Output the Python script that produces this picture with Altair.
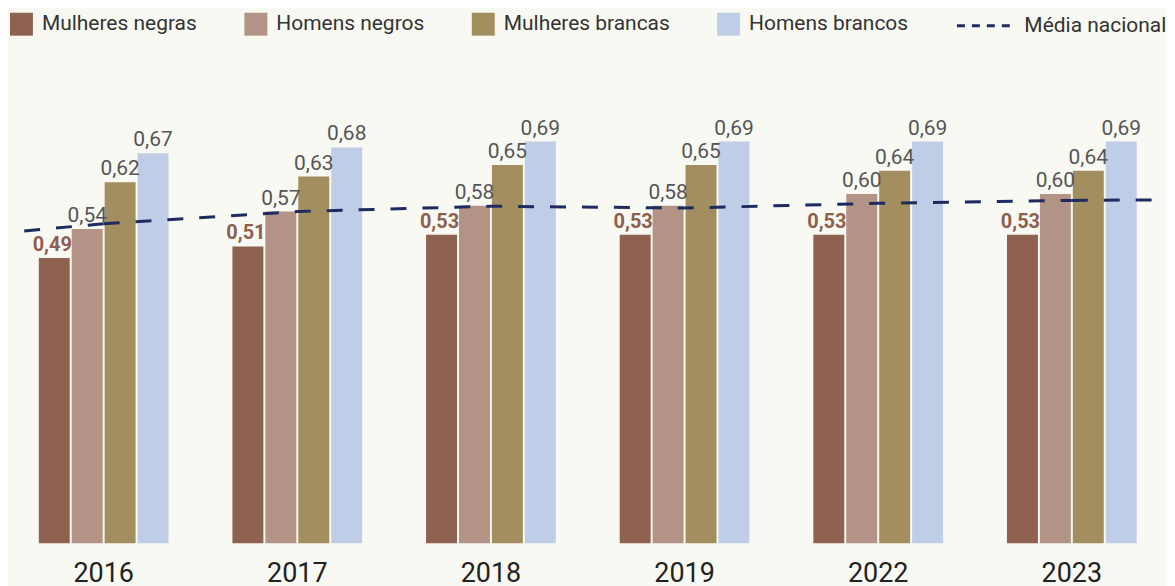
import altair as alt
import pandas as pd

anos = ["2016", "2017", "2018", "2019", "2022", "2023"]
series = ["Mulheres negras", "Homens negros", "Mulheres brancas", "Homens brancos"]
mulheres_negras = [0.49, 0.51, 0.53, 0.53, 0.53, 0.53]
homens_negros = [0.54, 0.57, 0.58, 0.58, 0.60, 0.60]
mulheres_brancas = [0.62, 0.63, 0.65, 0.65, 0.64, 0.64]
homens_brancos = [0.67, 0.68, 0.69, 0.69, 0.69, 0.69]
media_nacional = [0.549, 0.570, 0.579, 0.576, 0.584, 0.589]
media_borda_esq = 0.535
media_borda_dir = 0.590
cores = ["#8E6150", "#B39385", "#A28E5F", "#BFCDE6"]
azul = "#1F2A5E"

rows = []
for s, vals in zip(series, [mulheres_negras, homens_negros, mulheres_brancas, homens_brancos]):
    for a, v in zip(anos, vals):
        rows.append({"ano": a, "serie": s, "valor": v})
df = pd.DataFrame(rows)
df_media = pd.DataFrame({"ano": anos, "valor": media_nacional, "linha": ["Média nacional"] * len(anos)})
df_esq = pd.DataFrame({"ano": [anos[0]], "valor": [media_nacional[0]], "v2": [media_borda_esq]})
df_dir = pd.DataFrame({"ano": [anos[-1]], "valor": [media_nacional[-1]], "v2": [media_borda_dir]})

FONT = "Roboto"
xscale = alt.Scale(domain=anos, paddingInner=0.33, paddingOuter=0.15, align=0.53)
x_enc = alt.X("ano:N", scale=xscale, sort=anos,
              axis=alt.Axis(title=None, labelFontSize=27, labelFont=FONT, labelColor="#222",
                            labelAngle=0, domain=False, ticks=False, labelPadding=17, grid=False))
yscale = alt.Scale(domain=[0, 0.8])
y_enc = alt.Y("valor:Q", scale=yscale, axis=None)
xoff = alt.XOffset("serie:N", scale=alt.Scale(domain=series, paddingInner=0.06, paddingOuter=0))

bars = alt.Chart(df).mark_bar().encode(
    x=x_enc, xOffset=xoff, y=y_enc,
    color=alt.Color("serie:N", scale=alt.Scale(domain=series, range=cores),
                    legend=alt.Legend(orient="none", legendX=2, legendY=-65, direction="horizontal",
                                      title=None, symbolType="square", symbolSize=529,
                                      symbolStrokeWidth=0, symbolOpacity=1, labelFontSize=21,
                                      labelFont=FONT, labelColor="#333", labelOffset=9,
                                      labelLimit=400, columnPadding=47)),
)

# the drawn national-average line
line = alt.Chart(df_media).mark_line(strokeWidth=3, color=azul, strokeDash=[16, 16]).encode(
    x=x_enc, y=y_enc)

# invisible copy that only provides the legend entry
line_legend = alt.Chart(df_media).mark_line(strokeWidth=3, color=azul, opacity=0).encode(
    x=x_enc, y=y_enc,
    strokeDash=alt.StrokeDash("linha:N", scale=alt.Scale(domain=["Média nacional"], range=[[8, 7]]),
                              legend=alt.Legend(orient="none", legendX=966, legendY=-65,
                                                direction="horizontal", title=None,
                                                symbolType="M-2.4,0H2.4", symbolSize=529,
                                                symbolStrokeWidth=3, symbolStrokeColor=azul,
                                                symbolOpacity=1, labelFontSize=21, labelLimit=400,
                                                labelFont=FONT, labelColor="#333", labelOffset=27)),
)

rule_esq = alt.Chart(df_esq).mark_rule(strokeWidth=3, color=azul, strokeDash=[16, 16]).encode(
    x=x_enc, y=y_enc, x2=alt.value(7), y2="v2:Q")
rule_dir = alt.Chart(df_dir).mark_rule(strokeWidth=3, color=azul, strokeDash=[16, 16]).encode(
    x=x_enc, y=y_enc, x2=alt.value("width"), y2="v2:Q")

labels_base = alt.Chart(df).transform_calculate(
    label="replace(format(datum.valor, '.2f'), '.', ',')")

labels = labels_base.transform_filter("datum.serie != 'Mulheres negras'").mark_text(
    fontSize=21, font=FONT, color="#555", baseline="alphabetic", dy=-7).encode(
    x=x_enc, xOffset=xoff, y=y_enc, text="label:N")

labels_bold = labels_base.transform_filter("datum.serie == 'Mulheres negras'").mark_text(
    fontSize=20, font=FONT, color="#8E5E4E", fontWeight="bold", baseline="alphabetic",
    dy=-7, dx=-2).encode(
    x=x_enc, xOffset=xoff, y=y_enc, text="label:N")

chart = alt.layer(bars, line_legend, line, rule_esq, rule_dir, labels, labels_bold).properties(
    width=1159, height=467, padding={"top": 4, "left": 0, "right": 0, "bottom": 0}
).configure(background="#F9F9F4").configure_view(strokeWidth=0)

chart.save("out.html", embed_options={"renderer": "svg", "actions": False})
